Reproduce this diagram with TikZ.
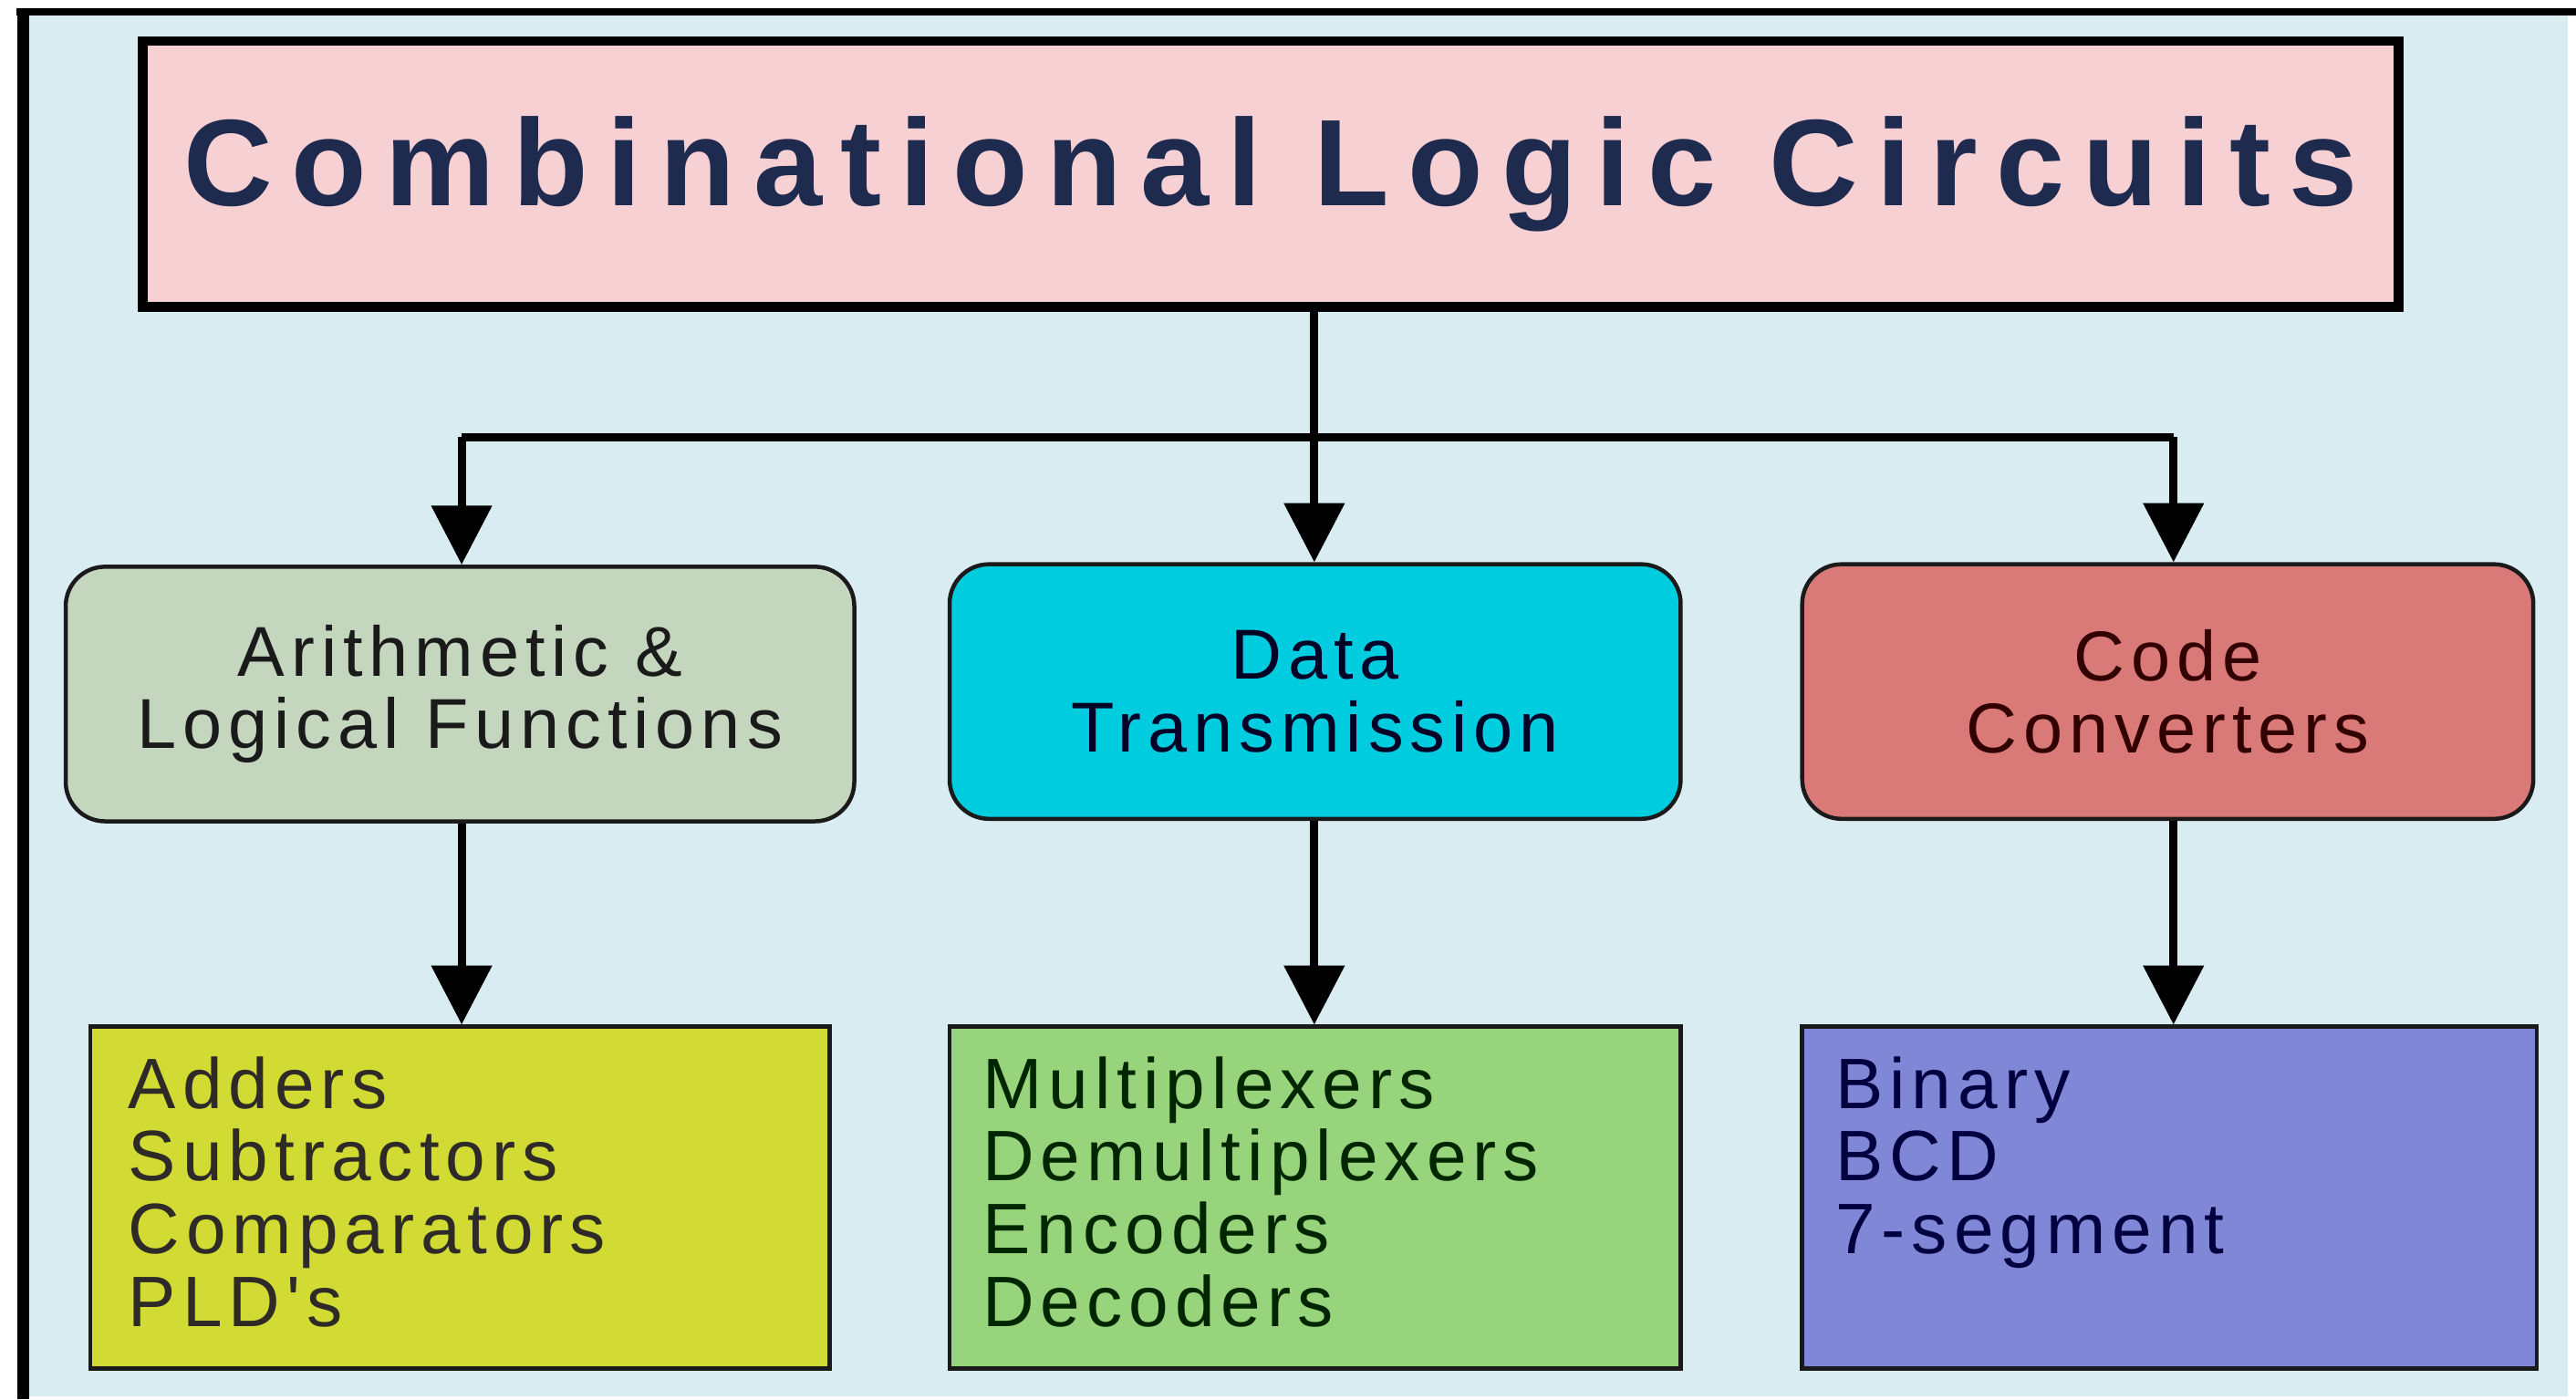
\documentclass[tikz,border=0pt]{standalone}
\usepackage{fontspec}
\setmainfont{Liberation Sans}
\newfontfamily\titlefont[LetterSpace=15]{Liberation Sans}
\newfontfamily\bodyfont[LetterSpace=9]{Liberation Sans}
\usetikzlibrary{arrows.meta}
\definecolor{bgc}{HTML}{D9ECF1}
\definecolor{titlefill}{HTML}{F7D0D4}
\definecolor{titletext}{HTML}{1E2A4E}
\definecolor{mA}{HTML}{C5D6BF}
\definecolor{mB}{HTML}{00CCE0}
\definecolor{mC}{HTML}{D97A78}
\definecolor{bA}{HTML}{D2DA34}
\definecolor{bB}{HTML}{98D47B}
\definecolor{bC}{HTML}{7F87D6}
\definecolor{edge}{HTML}{1A1A1A}
\tikzset{
  titlebox/.style={draw=black, line width=6pt, fill=titlefill, minimum width=1373pt, minimum height=162pt, inner sep=0pt,
    font=\titlefont\bfseries\fontsize{75}{78}\selectfont, text=titletext},
  midbox/.style={draw=edge, line width=2.5pt, rounded corners=24pt, minimum width=#1, minimum height=155pt, inner sep=0pt,
    align=center, font=\bodyfont\fontsize{43}{44}\selectfont},
  botbox/.style={draw=edge, line width=2.5pt, minimum width=#1, minimum height=208pt, inner sep=0pt},
  bottext/.style={anchor=north west, inner sep=0pt, align=left, font=\bodyfont\fontsize{43.5}{44.3}\selectfont},
  conn/.style={line width=5pt, draw=black},
  arr/.style={conn, -{Triangle[length=36pt,width=36pt]}}
}
\begin{document}
\begin{tikzpicture}[x=1pt,y=-1pt]
\useasboundingbox (0,0) rectangle (1568,852);
% background
\fill[bgc] (14,8) rectangle (1563,850);
\draw[line width=4.5pt] (10,7.2) -- (1568,7.2);
\draw[line width=7pt] (14,5) -- (14,852);
% title
\node[titlebox] (title) at (773.5,106) {Combinational Logic Circuits};
% middle boxes
\node[midbox=480pt, fill=mA, text=edge] (m1) at (280,422.5) {Arithmetic \&\\Logical Functions};
\node[midbox=445pt, fill=mB, text=black!85!blue] (m2) at (800.5,421) {Data\\Transmission};
\node[midbox=445pt, fill=mC, text=black!80!red] (m3) at (1319.5,421) {Code\\Converters};
% bottom boxes
\node[botbox=450pt, fill=bA] (b1) at (280,729) {};
\node[botbox=445pt, fill=bB] (b2) at (800.5,729) {};
\node[botbox=447pt, fill=bC] (b3) at (1320.5,729) {};
\node[bottext, text=black!90!olive] (t1) at (78,643) {Adders\\Subtractors\\Comparators\\PLD's};
\node[bottext, text=black!85!green] (t2) at (598,643) {Multiplexers\\Demultiplexers\\Encoders\\Decoders};
\node[bottext, text=black!75!blue] (t3) at (1117,643) {Binary\\BCD\\7-segment};
% connectors
\coordinate (j) at (800,266);
\coordinate (jl) at (281,266);
\coordinate (jr) at (1323,266);
\draw[conn] (title.south -| j) -- (j);
\draw[conn] (jl) -- (jr);
\draw[arr] (jl) -- (jl |- m1.north);
\draw[arr] (j) -- (j |- m2.north);
\draw[arr] (jr) -- (jr |- m3.north);
\draw[arr] (m1.south -| jl) -- (jl |- b1.north);
\draw[arr] (m2.south -| j) -- (j |- b2.north);
\draw[arr] (m3.south -| jr) -- (jr |- b3.north);
\end{tikzpicture}
\end{document}
